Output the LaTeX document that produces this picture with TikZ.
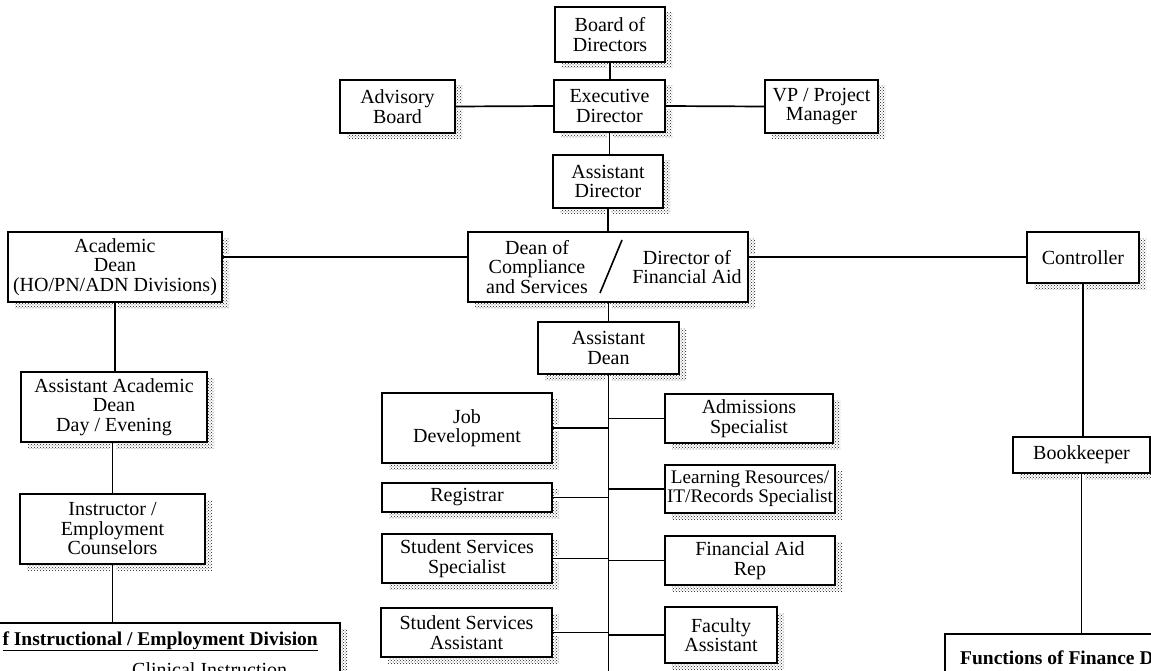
\documentclass[tikz,border=0pt]{standalone}
\usepackage{fontspec}
\setmainfont{Liberation Serif}
\usetikzlibrary{shadows,patterns}
\begin{document}
\begin{tikzpicture}[x=1pt,y=-1pt,
  box/.style={draw=black, line width=1.7pt, fill=white, align=center, inner sep=0pt,
    font=\fontsize{20}{19.5}\selectfont,
    drop shadow={shadow xshift=7pt, shadow yshift=-6pt, pattern=crosshatch dots, pattern color=black!90, opacity=1}},
  conn/.style={line width=1.7pt, preaction={draw=white, line width=6pt, shorten <=1.4pt, shorten >=1.4pt}},
  txt/.style={inner sep=0pt, align=center, font=\fontsize{20}{19.5}\selectfont}
]
\useasboundingbox (0,0) rectangle (1151,671);
\clip (0,0) rectangle (1151,671);
% top
\node[box, minimum width=110pt, minimum height=55pt] (board) at (610,34.5) {Board of\\Directors};
\node[box, minimum width=111pt, minimum height=52pt] (exec) at (609.5,106) {Executive\\Director};
\node[box, minimum width=115pt, minimum height=53pt] (adv) at (397.5,106.5) {Advisory\\Board};
\node[box, minimum width=113pt, minimum height=53pt] (vp) at (821.5,106.5) {VP / Project\\Manager};
\node[box, minimum width=110pt, minimum height=53pt] (asstdir) at (608,181.5) {Assistant\\Director};
\node[box, minimum width=280pt, minimum height=70pt] (dean) at (608,267) {};
\node[txt] (deanl) at (537,267) {Dean of\\Compliance\\and Services};
\node[txt] (deanr) at (687,267) {Director of\\Financial Aid};
\coordinate (sl1) at (622,240);
\coordinate (sl2) at (600,293);
\draw[line width=1.6pt] (sl1) -- (sl2);
\node[box, minimum width=141pt, minimum height=52pt] (asstdean) at (608.5,348) {Assistant\\Dean};
% left branch
\node[box, minimum width=214pt, minimum height=70pt] (acad) at (115,267) {Academic\\Dean\\(HO/PN/ADN Divisions)};
\node[box, minimum width=186pt, minimum height=70pt] (asstacad) at (114,407) {Assistant Academic\\Dean\\Day / Evening};
\node[box, minimum width=185pt, minimum height=70pt] (instr) at (112.5,529) {Instructor /\\Employment\\Counselors};
\node[box, minimum width=390pt, minimum height=97pt] (instrbox) at (145,671.5) {};
\node[txt, font=\fontsize{19.5}{19.5}\selectfont\bfseries, anchor=base east] (instrhead) at (318,645) {\underline{f Instructional / Employment Division}};
\node[txt, anchor=base west] (clin) at (132,676) {Clinical Instruction};
% right branch
\node[box, minimum width=112pt, minimum height=51pt] (ctrl) at (1083,257.5) {Controller};
\node[box, minimum width=137pt, minimum height=36pt] (book) at (1081.5,455) {Bookkeeper};
\node[box, minimum width=255pt, minimum height=86pt] (finbox) at (1072.5,677) {};
\node[txt, font=\fontsize{19.5}{19.5}\selectfont\bfseries, anchor=base west] (finhead) at (960,664) {Functions of Finance D};
% middle staff
\node[box, minimum width=170pt, minimum height=70pt] (job) at (467,428) {Job\\Development};
\node[box, minimum width=170pt, minimum height=29pt] (reg) at (467,497.5) {Registrar};
\node[box, minimum width=170pt, minimum height=49pt] (sss) at (467,558.5) {Student Services\\Specialist};
\node[box, minimum width=171pt, minimum height=49pt] (ssa) at (466.5,632.5) {Student Services\\Assistant};
\node[box, minimum width=168pt, minimum height=49pt] (adm) at (749,418.5) {Admissions\\Specialist};
\node[box, minimum width=170pt, minimum height=48pt, font=\fontsize{19.2}{19}\selectfont] (lrn) at (750,489) {Learning Resources/\\IT/Records Specialist};
\node[box, minimum width=170pt, minimum height=49pt] (far) at (750,560.5) {Financial Aid\\Rep};
\node[box, minimum width=112pt, minimum height=56pt] (fac) at (721,635) {Faculty\\Assistant};
% connectors
\coordinate (hl) at (0,257);
\coordinate (bottom) at (0,675);
\draw[conn] (board.south) -- (board.south |- exec.north);
\draw[conn] (adv.east) -- (exec.west);
\draw[conn] (exec.east) -- (vp.west);
\draw[conn] (exec.south) -- (exec.south |- asstdir.north);
\draw[conn] (asstdir.south) -- (asstdir.south |- dean.north);
\draw[conn] (acad.east |- hl) -- (dean.west |- hl);
\draw[conn] (dean.east |- hl) -- (ctrl.west |- hl);
\draw[conn] (asstdean.north |- dean.south) -- (asstdean.north);
\draw[conn] (asstdean.south) -- (asstdean.south |- bottom);
\draw[conn] (job.east) -- (job.east -| asstdean.south);
\draw[conn] (reg.east) -- (reg.east -| asstdean.south);
\draw[conn] (sss.east) -- (sss.east -| asstdean.south);
\draw[conn] (ssa.east) -- (ssa.east -| asstdean.south);
\draw[conn] (adm.west -| asstdean.south) -- (adm.west);
\draw[conn] (lrn.west -| asstdean.south) -- (lrn.west);
\draw[conn] (far.west -| asstdean.south) -- (far.west);
\draw[conn] (fac.west -| asstdean.south) -- (fac.west);
\draw[conn] (acad.south) -- (acad.south |- asstacad.north);
\draw[conn] (instr.north |- asstacad.south) -- (instr.north);
\draw[conn] (instr.south) -- (instr.south |- instrbox.north);
\draw[conn] (ctrl.south) -- (ctrl.south |- book.north);
\draw[conn] (book.south) -- (book.south |- finbox.north);
\end{tikzpicture}
\end{document}
